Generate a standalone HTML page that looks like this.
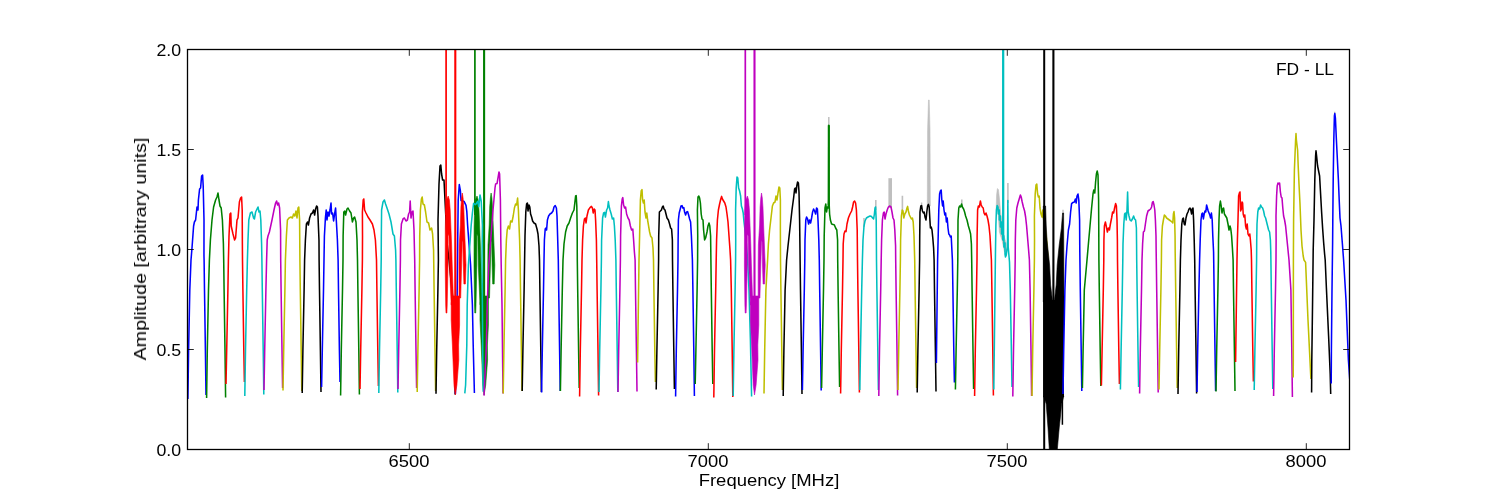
<!DOCTYPE html>
<html><head><meta charset="utf-8"><title>FD - LL</title>
<style>
html,body{margin:0;padding:0;background:#fff;}
body{width:1500px;height:500px;position:relative;overflow:hidden;font-family:"Liberation Sans",sans-serif;color:#000;}
svg{position:absolute;left:0;top:0;}
.xt,.yt,.xl,.yl,.tt{will-change:transform;}
.xt{position:absolute;top:452.2px;width:80px;text-align:center;font-size:16.6px;line-height:20px;transform:scaleX(1.108);transform-origin:50% 50%;}
.yt{position:absolute;left:100px;width:81.2px;text-align:right;font-size:16.6px;line-height:20px;transform:scaleX(1.07);transform-origin:100% 50%;}
.xl{position:absolute;left:619.3px;top:470.5px;width:300px;text-align:center;font-size:16.6px;line-height:20px;transform:scaleX(1.113);transform-origin:50% 50%;white-space:nowrap;}
.yl{position:absolute;left:-9.3px;top:238.8px;width:300px;text-align:center;font-size:16.6px;line-height:20px;transform:rotate(-90deg) scaleX(1.184);transform-origin:50% 50%;white-space:nowrap;}
.tt{position:absolute;left:1254.5px;top:60.3px;width:100px;text-align:center;font-size:16.6px;line-height:20px;transform:scaleX(1.048);transform-origin:50% 50%;white-space:nowrap;}
</style></head>
<body>
<svg width="1500" height="500" viewBox="0 0 1500 500">
<defs><clipPath id="ax"><rect x="187.50" y="49.50" width="1162.00" height="400.00"/></clipPath></defs>
<g clip-path="url(#ax)">
<line x1="828.80" y1="116.90" x2="828.80" y2="128.00" stroke="#bfbfbf" stroke-width="1.5"/>
<line x1="864.00" y1="218.00" x2="864.00" y2="227.00" stroke="#bfbfbf" stroke-width="1.6"/>
<line x1="875.80" y1="200.00" x2="875.80" y2="210.00" stroke="#bfbfbf" stroke-width="1.6"/>
<rect x="888.40" y="178.20" width="3.60" height="29.80" fill="#bfbfbf"/>
<line x1="902.40" y1="195.80" x2="902.40" y2="211.00" stroke="#bfbfbf" stroke-width="1.6"/>
<line x1="921.60" y1="202.40" x2="921.60" y2="207.00" stroke="#bfbfbf" stroke-width="1.4"/>
<polygon points="927.30,206.00 927.60,130.00 928.50,100.00 929.20,100.00 930.00,130.00 930.30,206.00" fill="#bfbfbf" stroke="#bfbfbf" stroke-width="0.6" stroke-linejoin="round" />
<line x1="961.80" y1="199.40" x2="961.80" y2="206.00" stroke="#bfbfbf" stroke-width="1.6"/>
<polygon points="996.20,208.00 996.60,195.00 997.40,188.60 998.40,189.50 999.60,200.00 1000.60,212.00 1001.90,222.00 1003.60,235.00 1006.20,243.00 1006.60,252.00 1004.50,252.00 1002.00,240.00 999.40,232.00 998.00,212.00" fill="#bfbfbf" stroke="#bfbfbf" stroke-width="0.6" stroke-linejoin="round" />
<line x1="1007.90" y1="183.00" x2="1007.90" y2="203.00" stroke="#bfbfbf" stroke-width="1.6"/>
<line x1="1063.00" y1="209.80" x2="1063.00" y2="215.00" stroke="#bfbfbf" stroke-width="1.4"/>
<line x1="1334.70" y1="111.80" x2="1334.70" y2="116.00" stroke="#bfbfbf" stroke-width="1.4"/>
<polyline points="187.90,399.00 188.60,350.00 189.80,290.00 191.00,260.00 192.00,248.00 193.60,226.00 194.40,222.00 195.60,220.00 197.00,207.00 198.00,210.00 198.40,200.00 199.60,189.00 200.60,188.00 201.60,176.00 202.60,175.00 203.20,186.00 204.00,220.00 203.98,256.00 204.10,260.00 204.50,290.00 205.40,350.00 206.00,395.00" fill="none" stroke="#0000ff" stroke-width="1.55" stroke-linejoin="round" />
<polyline points="206.60,398.00 207.30,350.00 208.50,290.00 209.40,260.00 210.40,240.00 212.00,220.00 213.60,207.00 215.60,200.00 217.00,197.00 218.00,193.00 219.00,200.00 220.00,206.00 221.20,208.00 222.40,220.00 223.40,244.00 223.70,260.00 224.10,290.00 225.00,350.00 225.60,397.40" fill="none" stroke="#008000" stroke-width="1.55" stroke-linejoin="round" />
<polyline points="226.00,384.00 226.70,350.00 227.90,290.00 228.40,260.00 229.00,236.00 230.00,214.00 230.80,213.00 231.20,226.00 233.00,234.00 234.60,240.00 235.60,238.00 237.00,220.00 238.00,218.00 239.40,202.00 240.60,198.00 241.60,197.00 242.20,210.00 242.38,244.00 242.50,260.00 242.90,290.00 243.80,350.00 244.40,382.00" fill="none" stroke="#ff0000" stroke-width="1.55" stroke-linejoin="round" />
<polyline points="244.80,396.00 245.50,350.00 246.70,290.00 247.40,260.00 248.00,240.00 248.80,220.00 250.40,213.00 252.00,212.00 253.60,218.00 254.40,219.00 255.60,212.00 257.00,209.00 258.00,207.00 259.00,212.00 260.00,211.00 260.80,220.00 261.60,244.00 261.90,260.00 262.30,290.00 263.20,350.00 263.80,394.60" fill="none" stroke="#00bfbf" stroke-width="1.55" stroke-linejoin="round" />
<polyline points="264.00,390.00 264.70,350.00 265.90,290.00 266.60,260.00 267.20,240.00 268.00,236.00 269.40,232.00 272.00,220.00 274.00,210.00 275.60,203.00 276.60,201.00 277.60,205.00 278.60,203.00 279.60,208.00 280.58,230.00 280.70,260.00 281.10,290.00 282.00,350.00 282.60,388.00" fill="none" stroke="#bf00bf" stroke-width="1.55" stroke-linejoin="round" />
<polyline points="283.00,390.60 283.70,350.00 284.90,290.00 285.40,260.00 286.40,236.00 287.40,220.00 289.00,218.00 291.00,217.00 292.40,218.00 293.60,214.00 294.80,216.00 296.00,211.00 297.00,218.00 298.00,208.00 298.80,207.00 299.60,220.00 299.78,244.00 299.90,260.00 300.30,290.00 301.20,350.00 301.80,391.00" fill="none" stroke="#bfbf00" stroke-width="1.55" stroke-linejoin="round" />
<polyline points="302.20,393.00 302.90,350.00 304.10,290.00 304.60,260.00 305.40,240.00 306.40,224.00 307.60,222.00 308.40,225.00 309.60,218.00 311.00,214.00 312.40,213.00 313.60,210.00 314.60,215.00 315.60,209.00 316.60,206.00 317.40,207.00 318.00,216.00 318.98,240.00 319.10,260.00 319.50,290.00 320.40,350.00 321.00,392.00" fill="none" stroke="#000000" stroke-width="1.55" stroke-linejoin="round" />
<polyline points="321.60,387.00 322.30,350.00 323.50,290.00 324.00,260.00 324.40,236.00 325.40,218.00 326.20,210.00 327.00,220.00 328.00,212.00 329.00,216.00 330.00,210.00 331.00,203.00 331.60,214.00 332.60,213.00 333.60,221.00 334.60,214.00 335.60,208.00 336.40,222.00 337.40,240.00 338.10,260.00 338.50,290.00 339.40,350.00 340.00,382.00" fill="none" stroke="#0000ff" stroke-width="1.55" stroke-linejoin="round" />
<polyline points="340.60,395.40 341.30,350.00 342.50,290.00 343.00,260.00 343.12,236.00 343.80,212.00 344.80,211.00 345.60,215.00 347.00,209.00 348.00,208.00 349.60,211.00 351.00,213.00 352.40,222.00 353.60,218.00 354.60,217.00 356.00,222.00 357.00,240.00 357.50,260.00 357.90,290.00 358.80,350.00 359.40,394.40" fill="none" stroke="#008000" stroke-width="1.55" stroke-linejoin="round" />
<polyline points="360.00,389.00 360.70,350.00 361.90,290.00 362.40,260.00 362.52,236.00 362.40,212.00 363.20,200.00 363.80,199.00 364.60,210.00 366.00,213.00 368.00,217.00 370.00,220.00 372.40,224.00 374.00,230.00 375.40,240.00 376.50,260.00 376.90,290.00 377.80,350.00 378.40,386.00" fill="none" stroke="#ff0000" stroke-width="1.55" stroke-linejoin="round" />
<polyline points="378.80,393.00 379.50,350.00 380.70,290.00 381.20,260.00 381.32,236.00 381.60,210.00 383.00,202.00 384.40,200.00 385.60,204.00 387.00,208.00 389.00,214.00 391.00,222.00 393.00,234.00 394.40,236.00 395.60,250.00 395.90,260.00 396.30,290.00 397.20,350.00 397.80,392.60" fill="none" stroke="#00bfbf" stroke-width="1.55" stroke-linejoin="round" />
<polyline points="398.00,389.00 398.70,350.00 399.90,290.00 400.40,260.00 400.52,240.00 401.40,224.00 403.00,219.00 404.40,218.00 406.00,221.00 407.40,220.00 408.60,214.00 409.60,212.00 410.20,201.00 411.00,218.00 412.00,212.00 413.00,211.00 414.00,230.00 414.70,260.00 415.10,290.00 416.00,350.00 416.60,388.00" fill="none" stroke="#bf00bf" stroke-width="1.55" stroke-linejoin="round" />
<polyline points="417.20,392.00 417.90,350.00 419.10,290.00 419.60,260.00 419.72,236.00 420.40,210.00 421.40,199.00 422.20,197.00 423.00,204.00 424.40,205.00 425.60,212.00 427.00,222.00 428.60,223.00 430.00,230.00 431.60,228.00 432.60,234.00 433.58,250.00 433.70,260.00 434.10,290.00 435.00,350.00 435.60,391.00" fill="none" stroke="#bfbf00" stroke-width="1.55" stroke-linejoin="round" />
<polyline points="436.00,393.80 436.70,350.00 437.90,290.00 438.40,260.00 438.00,220.00 439.00,184.00 440.00,166.00 440.80,165.00 441.60,174.00 442.60,180.00 444.00,180.00 445.00,200.00 446.00,220.00 447.20,244.00 449.00,260.00 451.40,285.00 454.00,310.00 454.80,350.00 455.20,394.60" fill="none" stroke="#000000" stroke-width="1.55" stroke-linejoin="round" />
<polyline points="455.40,394.00 456.80,330.00 457.60,250.00 458.20,200.00 459.30,184.60 460.40,190.80 461.00,200.50 464.20,201.60 466.00,205.40 466.80,211.40 467.60,225.00 470.60,265.00 472.40,305.00 473.20,345.00 474.40,393.00" fill="none" stroke="#0000ff" stroke-width="1.55" stroke-linejoin="round" />
<polygon points="474.10,228.00 474.50,210.00 475.40,200.00 477.00,196.00 478.20,200.00 479.00,210.00 479.60,225.00 480.40,245.00 481.00,265.00 482.40,305.00 480.00,305.00 478.30,265.00 477.80,236.00 476.90,234.00 476.80,265.00 476.00,305.00 475.70,313.00 474.80,313.00 474.50,305.00 474.00,265.00" fill="#008000" stroke="#008000" stroke-width="0.6" stroke-linejoin="round" />
<polygon points="480.00,303.00 481.80,296.00 488.40,296.00 488.40,325.00 487.40,345.00 487.60,360.00 485.70,385.00 484.10,395.00 482.80,385.00 481.20,345.00 480.00,320.00" fill="#008000" stroke="#008000" stroke-width="0.6" stroke-linejoin="round" />
<line x1="474.90" y1="40.00" x2="474.90" y2="215.00" stroke="#008000" stroke-width="1.7"/>
<line x1="484.10" y1="40.00" x2="484.10" y2="320.00" stroke="#008000" stroke-width="2.1"/>
<polygon points="487.80,265.00 488.00,245.00 489.20,225.00 489.70,207.00 490.40,198.00 491.10,193.00 491.90,198.00 492.60,208.00 493.20,225.00 494.00,245.00 494.80,265.00 494.20,284.00 492.70,284.00 492.10,265.00 491.70,242.00 491.10,240.00 490.40,265.00 489.50,298.00 487.80,298.00" fill="#008000" stroke="#008000" stroke-width="0.6" stroke-linejoin="round" />
<polygon points="445.30,228.00 445.70,210.00 446.60,200.00 448.20,196.00 449.40,200.00 450.20,210.00 450.80,225.00 451.60,245.00 452.20,265.00 453.60,305.00 451.20,305.00 449.50,265.00 449.00,236.00 448.10,234.00 448.00,265.00 447.20,305.00 446.90,313.00 446.00,313.00 445.70,305.00 445.20,265.00" fill="#ff0000" stroke="#ff0000" stroke-width="0.6" stroke-linejoin="round" />
<polygon points="451.20,303.00 453.00,296.00 459.60,296.00 459.60,325.00 458.60,345.00 458.80,360.00 456.90,385.00 455.30,395.00 454.00,385.00 452.40,345.00 451.20,320.00" fill="#ff0000" stroke="#ff0000" stroke-width="0.6" stroke-linejoin="round" />
<line x1="446.10" y1="40.00" x2="446.10" y2="215.00" stroke="#ff0000" stroke-width="1.7"/>
<line x1="455.30" y1="40.00" x2="455.30" y2="320.00" stroke="#ff0000" stroke-width="2.1"/>
<polygon points="459.00,265.00 459.20,245.00 460.40,225.00 460.90,207.00 461.60,198.00 462.30,193.00 463.10,198.00 463.80,208.00 464.40,225.00 465.20,245.00 466.00,265.00 465.40,284.00 463.90,284.00 463.30,265.00 462.90,242.00 462.30,240.00 461.60,265.00 460.70,298.00 459.00,298.00" fill="#ff0000" stroke="#ff0000" stroke-width="0.6" stroke-linejoin="round" />
<polyline points="464.80,393.40 465.60,385.00 466.80,345.00 467.20,305.00 468.40,265.00 471.20,225.00 472.40,213.00 473.60,203.40 475.60,204.60 477.60,201.40 478.80,206.60 480.00,195.00 481.20,201.00 482.00,217.00 482.40,225.00 482.00,260.00 482.40,305.00 482.80,360.00 483.20,391.80" fill="none" stroke="#00bfbf" stroke-width="1.55" stroke-linejoin="round" />
<polyline points="484.00,395.60 486.40,345.00 487.20,305.00 488.80,265.00 491.00,236.00 493.00,210.00 495.00,188.00 495.60,184.00 497.00,183.60 498.00,178.00 499.00,172.00 499.60,174.00 500.40,200.00 500.80,240.00 501.20,265.00 502.00,305.00 503.00,393.40" fill="none" stroke="#bf00bf" stroke-width="1.55" stroke-linejoin="round" />
<polyline points="503.20,393.40 503.90,350.00 505.10,290.00 505.60,260.00 506.40,240.00 507.20,230.00 508.40,226.00 509.60,229.00 510.60,221.00 512.00,222.00 513.20,216.00 514.40,208.00 515.60,204.00 516.60,205.00 517.60,198.00 518.40,210.00 519.60,240.00 520.10,260.00 520.50,290.00 521.40,350.00 522.00,391.00" fill="none" stroke="#bfbf00" stroke-width="1.55" stroke-linejoin="round" />
<polyline points="522.20,391.00 522.90,350.00 524.10,290.00 524.60,260.00 525.00,236.00 525.80,212.00 526.60,204.00 527.40,203.00 528.00,211.00 529.00,205.00 529.80,207.00 530.60,214.00 531.60,217.00 532.60,221.00 534.00,223.00 535.60,224.00 537.00,229.00 538.00,234.00 539.00,246.00 539.50,260.00 539.90,290.00 540.80,350.00 541.40,392.00" fill="none" stroke="#000000" stroke-width="1.55" stroke-linejoin="round" />
<polyline points="541.60,392.40 542.30,350.00 543.50,290.00 544.00,260.00 544.40,240.00 545.20,229.00 546.00,228.00 546.60,230.00 547.40,220.00 548.60,216.00 550.00,214.00 551.60,213.00 553.00,211.00 554.00,207.00 555.20,205.60 556.40,208.00 557.00,216.00 557.60,236.00 558.30,260.00 558.70,290.00 559.60,350.00 560.20,391.00" fill="none" stroke="#0000ff" stroke-width="1.55" stroke-linejoin="round" />
<polyline points="560.40,391.00 561.10,350.00 562.30,290.00 563.00,260.00 564.00,244.00 565.60,232.00 567.20,226.00 569.00,223.00 570.60,218.00 572.40,213.00 574.00,210.00 574.80,203.00 575.60,196.00 576.20,195.60 576.80,206.00 577.18,230.00 577.30,260.00 577.70,290.00 578.60,350.00 579.20,388.00" fill="none" stroke="#008000" stroke-width="1.55" stroke-linejoin="round" />
<polyline points="579.60,396.40 580.30,350.00 581.50,290.00 582.00,260.00 582.60,240.00 583.40,226.00 584.40,219.00 585.40,218.00 586.00,223.00 587.00,216.00 588.40,210.00 590.00,207.60 591.40,206.40 592.40,208.00 593.20,213.00 594.20,209.00 595.00,210.00 595.60,220.00 596.40,240.00 596.70,260.00 597.10,290.00 598.00,350.00 598.60,395.60" fill="none" stroke="#ff0000" stroke-width="1.55" stroke-linejoin="round" />
<polyline points="599.00,392.00 599.70,350.00 600.90,290.00 601.40,260.00 601.60,240.00 602.60,218.00 603.60,213.00 604.60,212.40 605.40,217.00 606.60,210.00 607.60,208.00 608.40,201.60 609.00,206.00 610.00,210.00 611.20,214.00 612.40,219.00 613.60,218.00 614.40,226.00 615.20,240.00 615.90,260.00 616.30,290.00 617.20,350.00 617.80,392.00" fill="none" stroke="#00bfbf" stroke-width="1.55" stroke-linejoin="round" />
<polyline points="618.00,392.00 618.70,350.00 619.90,290.00 620.40,260.00 620.60,236.00 621.40,206.00 622.20,199.00 622.80,197.60 623.60,205.00 624.60,208.00 625.60,207.00 626.60,214.00 628.00,218.00 629.20,220.00 630.40,226.00 631.60,230.00 632.80,229.00 633.60,240.00 634.40,252.00 635.10,260.00 635.50,290.00 636.40,350.00 637.00,391.60" fill="none" stroke="#bf00bf" stroke-width="1.55" stroke-linejoin="round" />
<polyline points="637.60,362.60 639.00,260.00 639.60,236.00 640.40,200.00 641.20,191.00 642.00,189.60 642.60,200.00 643.40,203.00 644.20,200.00 645.00,212.00 646.00,218.00 646.80,213.00 647.60,220.00 648.60,226.00 649.60,232.00 650.60,236.00 652.00,238.00 653.00,248.00 653.50,260.00 653.90,290.00 654.80,350.00 655.40,382.00" fill="none" stroke="#bfbf00" stroke-width="1.55" stroke-linejoin="round" />
<polyline points="656.20,389.40 656.90,350.00 658.10,290.00 658.60,260.00 658.72,236.00 659.40,212.00 660.40,211.00 661.40,210.00 662.40,207.00 663.20,206.00 664.00,209.00 665.00,210.00 666.00,214.00 667.00,218.00 668.40,220.00 669.60,224.00 670.60,228.00 671.60,229.00 672.38,240.00 672.50,260.00 672.90,290.00 673.80,350.00 674.40,389.00" fill="none" stroke="#000000" stroke-width="1.55" stroke-linejoin="round" />
<polyline points="675.60,396.40 676.30,350.00 677.50,290.00 678.00,260.00 678.12,240.00 678.40,220.00 679.20,213.00 680.00,210.00 681.00,206.00 682.00,205.60 682.80,208.00 683.80,207.60 684.60,212.00 685.60,215.00 686.60,212.00 687.60,211.60 688.60,215.00 689.60,219.00 690.60,222.00 691.40,236.00 692.40,260.00 692.90,290.00 693.80,350.00 694.40,396.00" fill="none" stroke="#0000ff" stroke-width="1.55" stroke-linejoin="round" />
<polyline points="695.20,384.00 695.90,350.00 697.10,290.00 697.60,260.00 697.72,236.00 697.40,210.00 698.00,197.00 698.80,196.00 699.60,198.00 700.40,203.00 701.20,214.00 702.00,219.00 703.00,220.00 703.60,230.00 704.60,240.00 705.60,238.00 707.00,232.00 708.00,226.00 709.00,223.00 709.80,226.00 710.60,236.00 710.78,250.00 710.90,260.00 711.30,290.00 712.20,350.00 712.80,384.00" fill="none" stroke="#008000" stroke-width="1.55" stroke-linejoin="round" />
<polyline points="713.80,397.60 714.50,350.00 715.70,290.00 716.20,260.00 716.60,240.00 717.40,220.00 718.40,210.00 719.60,204.00 720.80,199.00 721.60,196.40 722.40,199.00 723.60,201.00 724.80,203.00 726.00,207.00 727.00,214.00 728.00,222.00 729.00,236.00 730.00,250.00 730.60,260.00 731.30,290.00 732.20,350.00 732.80,397.00" fill="none" stroke="#ff0000" stroke-width="1.55" stroke-linejoin="round" />
<polyline points="733.20,396.00 733.90,350.00 735.10,290.00 735.60,260.00 735.72,240.00 735.60,210.00 736.20,188.00 737.00,177.00 737.80,178.00 738.60,188.00 739.60,191.00 740.60,196.00 741.40,206.00 742.40,209.00 743.20,213.00 744.00,222.00 745.20,232.00 746.40,244.00 747.60,260.00 749.00,290.00 750.40,340.00 751.60,396.60" fill="none" stroke="#00bfbf" stroke-width="1.55" stroke-linejoin="round" />
<polygon points="744.50,228.00 744.90,210.00 745.80,200.00 747.40,196.00 748.60,200.00 749.40,210.00 750.00,225.00 750.80,245.00 751.40,265.00 752.80,305.00 750.40,305.00 748.70,265.00 748.20,236.00 747.30,234.00 747.20,265.00 746.40,305.00 746.10,313.00 745.20,313.00 744.90,305.00 744.40,265.00" fill="#bf00bf" stroke="#bf00bf" stroke-width="0.6" stroke-linejoin="round" />
<polygon points="750.40,303.00 752.20,296.00 758.80,296.00 758.80,325.00 757.80,345.00 758.00,360.00 756.10,385.00 754.50,395.00 753.20,385.00 751.60,345.00 750.40,320.00" fill="#bf00bf" stroke="#bf00bf" stroke-width="0.6" stroke-linejoin="round" />
<line x1="745.30" y1="40.00" x2="745.30" y2="215.00" stroke="#bf00bf" stroke-width="1.7"/>
<line x1="754.50" y1="40.00" x2="754.50" y2="320.00" stroke="#bf00bf" stroke-width="2.1"/>
<polygon points="758.20,265.00 758.40,245.00 759.60,225.00 760.10,207.00 760.80,198.00 761.50,193.00 762.30,198.00 763.00,208.00 763.60,225.00 764.40,245.00 765.20,265.00 764.60,284.00 763.10,284.00 762.50,265.00 762.10,242.00 761.50,240.00 760.80,265.00 759.90,298.00 758.20,298.00" fill="#bf00bf" stroke="#bf00bf" stroke-width="0.6" stroke-linejoin="round" />
<polyline points="764.00,393.60 764.70,350.00 765.90,290.00 767.60,260.00 768.40,244.00 769.60,230.00 771.00,218.00 772.40,206.00 773.60,203.00 775.00,202.00 776.00,196.00 777.00,200.00 778.00,193.00 779.00,187.00 779.80,188.00 780.40,200.00 780.38,230.00 780.50,260.00 780.90,290.00 781.80,350.00 782.40,390.00" fill="none" stroke="#bfbf00" stroke-width="1.55" stroke-linejoin="round" />
<polyline points="783.20,396.00 783.90,350.00 785.10,290.00 786.60,260.00 788.00,246.00 790.00,228.00 792.00,210.00 793.60,198.00 794.60,189.00 795.40,188.00 796.00,193.00 796.80,186.00 797.60,182.00 798.40,183.00 799.00,192.00 799.60,220.00 799.98,250.00 800.10,260.00 800.50,290.00 801.40,350.00 802.00,394.00" fill="none" stroke="#000000" stroke-width="1.55" stroke-linejoin="round" />
<polyline points="802.40,390.00 803.10,350.00 804.30,290.00 804.80,260.00 805.00,240.00 805.80,220.00 806.60,217.00 807.60,219.00 808.60,224.00 809.60,220.00 810.60,223.00 811.60,218.00 812.60,212.00 813.60,209.00 814.60,211.00 815.60,214.00 816.60,208.00 817.40,209.00 818.00,220.00 818.80,240.00 819.30,260.00 819.70,290.00 820.60,350.00 821.20,390.40" fill="none" stroke="#0000ff" stroke-width="1.55" stroke-linejoin="round" />
<polyline points="821.60,388.00 822.30,350.00 823.50,290.00 824.00,260.00 824.20,236.00 825.00,208.00 825.80,204.00 826.60,212.00 827.40,207.00 828.20,208.00 828.60,200.00 828.80,125.20 829.00,200.00 829.60,214.00 830.40,220.00 831.60,224.00 833.00,224.40 834.40,225.00 835.60,228.00 836.80,230.00 837.58,240.00 837.70,260.00 838.10,290.00 839.00,350.00 839.60,387.00" fill="none" stroke="#008000" stroke-width="1.55" stroke-linejoin="round" />
<line x1="828.80" y1="125.20" x2="828.80" y2="205.00" stroke="#008000" stroke-width="2.1"/>
<polyline points="840.60,393.40 841.30,350.00 842.50,290.00 843.00,260.00 843.20,244.00 844.00,234.00 845.00,231.00 846.00,231.60 847.00,224.00 848.40,218.00 850.00,214.00 851.60,211.00 852.60,207.00 853.60,202.00 854.60,201.00 855.60,203.00 856.40,210.00 857.20,230.00 857.50,260.00 857.90,290.00 858.80,350.00 859.40,392.40" fill="none" stroke="#ff0000" stroke-width="1.55" stroke-linejoin="round" />
<polyline points="859.80,390.00 860.50,350.00 861.70,290.00 862.40,260.00 863.00,240.00 864.00,226.00 865.00,221.00 866.40,218.00 868.00,217.00 870.00,216.00 871.60,216.60 872.60,218.00 873.60,219.00 874.40,214.00 875.00,208.00 875.60,207.00 876.20,220.00 876.38,240.00 876.50,260.00 876.90,290.00 877.80,350.00 878.40,390.00" fill="none" stroke="#00bfbf" stroke-width="1.55" stroke-linejoin="round" />
<polyline points="878.80,396.00 879.50,350.00 880.70,290.00 881.20,260.00 881.60,240.00 882.40,220.00 883.40,213.00 884.20,212.00 885.00,219.00 886.00,214.00 887.20,210.00 888.40,207.00 889.60,206.00 891.00,207.00 892.00,212.00 893.00,218.00 894.00,220.00 894.80,230.00 895.58,246.00 895.70,260.00 896.10,290.00 897.00,350.00 897.60,395.40" fill="none" stroke="#bf00bf" stroke-width="1.55" stroke-linejoin="round" />
<polyline points="898.00,390.00 898.70,350.00 899.90,290.00 900.40,260.00 900.60,240.00 901.40,216.00 902.20,210.00 903.00,211.00 903.80,218.00 904.80,214.00 906.00,212.00 907.00,208.00 907.60,206.40 908.40,211.00 909.40,215.00 910.40,217.00 911.40,219.00 912.40,218.00 913.20,222.00 914.00,236.00 914.70,260.00 915.10,290.00 916.00,350.00 916.60,388.00" fill="none" stroke="#bfbf00" stroke-width="1.55" stroke-linejoin="round" />
<polyline points="917.20,392.40 917.90,350.00 919.10,290.00 919.60,260.00 919.72,236.00 920.00,212.00 920.80,206.00 921.60,205.60 922.40,211.00 923.40,213.00 924.20,212.00 925.00,217.00 926.00,220.00 926.80,212.00 927.60,206.00 928.40,204.40 929.20,207.00 929.80,218.00 930.40,228.00 931.20,227.00 932.00,230.00 932.80,238.00 933.60,248.00 934.10,260.00 934.50,290.00 935.40,350.00 936.00,391.60" fill="none" stroke="#000000" stroke-width="1.55" stroke-linejoin="round" />
<polyline points="936.40,363.00 937.60,260.00 938.20,236.00 938.80,210.00 939.60,194.00 940.40,191.00 941.20,190.00 941.80,200.00 942.60,206.00 943.20,201.00 944.00,210.00 944.80,215.00 945.60,213.00 946.40,222.00 947.20,218.00 948.00,228.00 948.80,234.00 949.60,235.00 950.40,237.00 951.20,236.00 951.80,248.00 952.40,260.00 952.90,290.00 953.80,350.00 954.40,382.40" fill="none" stroke="#0000ff" stroke-width="1.55" stroke-linejoin="round" />
<polyline points="955.40,389.40 956.10,350.00 957.30,290.00 957.80,260.00 957.92,240.00 958.00,220.00 958.80,208.00 959.60,206.00 960.60,207.00 961.60,204.00 962.40,207.00 963.60,209.00 964.60,212.00 965.60,216.00 967.00,220.00 968.40,226.00 969.60,230.00 970.60,234.00 971.40,244.00 971.70,260.00 972.10,290.00 973.00,350.00 973.60,389.00" fill="none" stroke="#008000" stroke-width="1.55" stroke-linejoin="round" />
<polyline points="974.60,396.00 975.30,350.00 976.50,290.00 977.00,260.00 977.12,236.00 977.60,210.00 978.40,206.00 979.40,207.00 980.40,201.00 981.20,205.00 982.20,207.00 983.20,208.00 984.00,213.00 985.00,215.00 986.00,213.00 987.00,216.00 988.00,220.00 989.00,226.00 990.00,236.00 990.80,250.00 991.40,260.00 991.90,290.00 992.80,350.00 993.40,395.60" fill="none" stroke="#ff0000" stroke-width="1.55" stroke-linejoin="round" />
<polyline points="993.80,389.60 994.40,340.00 995.00,290.00 995.50,250.00 995.90,225.00 996.40,210.00 997.20,205.50 998.00,207.00 998.30,214.00 999.30,210.00 999.30,220.00 1000.40,216.00 1000.40,227.00 1001.50,222.00 1001.60,234.00 1002.70,229.00 1002.80,240.00 1003.10,236.00 1003.20,40.00 1003.30,238.00 1003.90,236.00 1003.90,247.00 1005.00,243.00 1005.00,254.00 1005.50,257.00 1006.30,255.00 1006.90,250.00 1007.50,247.00 1007.85,200.60 1008.20,247.00 1008.80,254.00 1009.50,262.00 1010.30,290.00 1011.20,340.00 1012.00,387.00" fill="none" stroke="#00bfbf" stroke-width="1.55" stroke-linejoin="round" />
<line x1="1003.20" y1="40.00" x2="1003.20" y2="236.00" stroke="#00bfbf" stroke-width="2.2"/>
<polyline points="1012.80,396.40 1013.50,350.00 1014.70,290.00 1015.20,260.00 1015.32,240.00 1015.80,220.00 1016.80,208.00 1018.00,203.00 1019.20,199.00 1020.40,195.00 1021.20,197.00 1022.20,202.00 1023.40,207.00 1024.60,211.00 1025.60,217.00 1026.60,226.00 1027.60,238.00 1028.60,250.00 1029.40,260.00 1030.10,290.00 1031.00,350.00 1031.60,396.00" fill="none" stroke="#bf00bf" stroke-width="1.55" stroke-linejoin="round" />
<polyline points="1032.00,396.00 1032.70,350.00 1033.90,290.00 1034.40,260.00 1034.52,240.00 1034.40,216.00 1035.20,194.00 1036.00,185.00 1036.80,184.00 1037.60,194.00 1038.40,197.00 1039.20,196.00 1040.00,208.00 1041.00,214.00 1042.00,217.00 1042.80,210.00 1043.40,218.00 1045.00,228.00 1046.40,238.00 1048.00,260.00 1049.60,320.00 1051.00,392.00" fill="none" stroke="#bfbf00" stroke-width="1.55" stroke-linejoin="round" />
<line x1="1044.20" y1="40.00" x2="1044.20" y2="449.50" stroke="#000000" stroke-width="2.0"/>
<line x1="1053.40" y1="40.00" x2="1053.40" y2="320.00" stroke="#000000" stroke-width="2.1"/>
<polygon points="1043.30,206.00 1045.60,206.00 1046.20,225.00 1047.00,240.00 1049.60,265.00 1050.60,285.00 1052.60,302.00 1043.30,302.00" fill="#000000" stroke="#000000" stroke-width="0.6" stroke-linejoin="round" />
<polygon points="1062.60,213.00 1063.60,213.00 1064.00,302.00 1054.20,302.00 1056.20,285.00 1057.20,265.00 1059.20,245.00 1061.40,228.00" fill="#000000" stroke="#000000" stroke-width="0.6" stroke-linejoin="round" />
<rect x="1043.20" y="300.00" width="20.80" height="97.00" fill="#000000"/>
<polygon points="1043.40,396.00 1063.80,396.00 1062.80,400.00 1061.60,404.00 1060.60,415.00 1059.20,428.00 1057.30,449.50 1049.30,449.50 1048.00,428.00 1046.80,412.00 1046.20,404.00 1044.60,399.00" fill="#000000" stroke="#000000" stroke-width="0.6" stroke-linejoin="round" />
<line x1="1062.40" y1="396.00" x2="1062.40" y2="424.80" stroke="#000000" stroke-width="1.5"/>
<polyline points="1063.00,394.00 1063.70,350.00 1064.90,290.00 1066.00,260.00 1067.00,246.00 1068.40,230.00 1069.60,224.00 1070.60,212.00 1071.60,203.60 1073.00,202.40 1074.40,202.00 1075.40,199.00 1076.20,203.00 1077.00,196.00 1078.00,194.00 1078.80,200.00 1079.60,220.00 1079.78,250.00 1079.90,260.00 1080.30,290.00 1081.20,350.00 1081.80,391.00" fill="none" stroke="#0000ff" stroke-width="1.55" stroke-linejoin="round" />
<polyline points="1082.40,388.00 1083.10,350.00 1084.30,290.00 1087.00,260.00 1088.40,244.00 1090.00,226.00 1091.60,208.00 1093.00,194.00 1093.80,190.00 1094.80,193.00 1095.60,182.00 1096.40,174.00 1097.20,171.00 1098.00,175.00 1098.60,200.00 1098.78,230.00 1098.90,260.00 1099.30,290.00 1100.20,350.00 1100.80,386.00" fill="none" stroke="#008000" stroke-width="1.55" stroke-linejoin="round" />
<polyline points="1101.40,385.60 1102.10,350.00 1103.30,290.00 1103.80,260.00 1103.92,240.00 1104.40,226.00 1105.40,222.00 1106.40,227.00 1107.40,232.00 1108.40,228.00 1109.40,230.00 1110.40,224.00 1111.60,218.00 1112.60,212.00 1113.60,213.00 1114.60,208.00 1115.60,203.60 1116.40,206.00 1117.00,220.00 1117.38,240.00 1117.50,260.00 1117.90,290.00 1118.80,350.00 1119.40,384.00" fill="none" stroke="#ff0000" stroke-width="1.55" stroke-linejoin="round" />
<polyline points="1120.40,389.40 1121.10,350.00 1122.30,290.00 1122.80,260.00 1123.00,244.00 1123.80,224.00 1124.60,214.00 1125.40,213.00 1126.20,220.00 1127.00,210.00 1127.60,192.00 1128.20,212.00 1129.00,216.00 1130.00,220.00 1131.20,221.00 1132.40,219.00 1133.60,216.00 1134.60,219.00 1135.60,220.00 1136.40,228.00 1136.58,244.00 1136.70,260.00 1137.10,290.00 1138.00,350.00 1138.60,387.00" fill="none" stroke="#00bfbf" stroke-width="1.55" stroke-linejoin="round" />
<polyline points="1139.60,393.60 1140.30,350.00 1141.50,290.00 1142.00,260.00 1142.60,244.00 1143.40,232.00 1144.40,231.00 1145.40,224.00 1146.60,216.00 1148.00,211.00 1149.40,210.00 1150.60,209.00 1151.60,207.00 1152.40,202.40 1153.20,201.60 1154.00,205.00 1154.80,210.00 1155.40,220.00 1156.00,236.00 1156.18,252.00 1156.30,260.00 1156.70,290.00 1157.60,350.00 1158.20,392.60" fill="none" stroke="#bf00bf" stroke-width="1.55" stroke-linejoin="round" />
<polyline points="1159.00,389.60 1159.70,350.00 1160.90,290.00 1161.40,260.00 1161.60,240.00 1162.40,226.00 1163.40,220.00 1164.40,215.00 1165.40,216.00 1166.60,218.00 1168.00,219.00 1169.40,220.00 1170.80,221.00 1172.00,222.00 1172.80,223.00 1173.40,214.00 1174.00,211.60 1174.60,218.00 1175.06,236.00 1175.18,252.00 1175.30,260.00 1175.70,290.00 1176.60,350.00 1177.20,388.00" fill="none" stroke="#bfbf00" stroke-width="1.55" stroke-linejoin="round" />
<polyline points="1178.00,394.00 1178.70,350.00 1179.90,290.00 1180.40,260.00 1181.00,240.00 1181.80,224.00 1182.60,219.00 1183.40,218.00 1184.20,224.00 1185.00,225.00 1186.00,218.00 1187.00,214.00 1188.00,212.00 1189.00,209.00 1190.00,208.00 1190.80,210.00 1191.60,214.00 1192.20,209.00 1193.00,208.00 1193.60,220.00 1194.20,240.00 1194.70,260.00 1195.10,290.00 1196.00,350.00 1196.60,393.60" fill="none" stroke="#000000" stroke-width="1.55" stroke-linejoin="round" />
<polyline points="1197.00,392.00 1197.70,350.00 1198.90,290.00 1199.60,260.00 1200.20,240.00 1201.00,220.00 1201.80,214.00 1202.60,213.00 1203.40,219.00 1204.20,214.00 1205.00,211.00 1205.80,212.00 1206.60,205.00 1207.40,208.00 1208.20,211.00 1209.00,213.00 1209.80,215.00 1210.60,218.00 1211.40,213.00 1212.20,220.00 1212.80,236.00 1213.58,252.00 1213.70,260.00 1214.10,290.00 1215.00,350.00 1215.60,391.00" fill="none" stroke="#0000ff" stroke-width="1.55" stroke-linejoin="round" />
<polyline points="1216.00,391.60 1216.70,350.00 1217.90,290.00 1218.40,260.00 1218.52,240.00 1219.00,220.00 1219.60,206.00 1220.40,201.00 1221.20,206.00 1222.00,213.00 1222.80,209.00 1223.60,208.00 1224.40,214.00 1225.60,216.00 1226.80,218.00 1228.00,224.00 1229.00,230.00 1230.00,226.00 1230.80,229.00 1231.60,236.00 1232.40,248.00 1233.10,260.00 1233.50,290.00 1234.40,350.00 1235.00,391.00" fill="none" stroke="#008000" stroke-width="1.55" stroke-linejoin="round" />
<polyline points="1235.60,362.00 1237.00,260.00 1237.40,240.00 1238.00,220.00 1238.60,196.00 1239.40,193.00 1240.00,192.00 1240.60,211.00 1241.40,209.00 1242.00,202.00 1242.60,203.00 1243.20,214.00 1244.00,217.00 1244.80,215.00 1245.60,226.00 1246.40,229.00 1247.20,224.00 1248.00,234.00 1249.00,236.00 1249.80,234.00 1250.40,240.00 1251.20,250.00 1251.50,260.00 1251.90,290.00 1252.80,350.00 1253.40,381.60" fill="none" stroke="#ff0000" stroke-width="1.55" stroke-linejoin="round" />
<polyline points="1254.20,390.00 1254.90,350.00 1256.10,290.00 1256.60,260.00 1256.72,240.00 1257.00,224.00 1257.80,212.00 1258.60,208.00 1259.60,209.00 1260.60,205.00 1261.60,207.00 1262.60,208.00 1263.60,211.00 1264.60,216.00 1265.60,218.00 1266.60,222.00 1267.60,226.00 1268.60,230.00 1269.60,232.00 1270.40,240.00 1270.78,252.00 1270.90,260.00 1271.30,290.00 1272.20,350.00 1272.80,389.00" fill="none" stroke="#00bfbf" stroke-width="1.55" stroke-linejoin="round" />
<polyline points="1273.60,396.00 1274.30,350.00 1275.50,290.00 1276.00,260.00 1276.12,240.00 1276.00,216.00 1276.60,196.00 1277.20,186.00 1278.00,183.00 1278.80,184.00 1279.60,183.00 1280.40,192.00 1281.20,197.00 1282.00,198.00 1282.80,208.00 1283.60,216.00 1284.60,220.00 1285.60,226.00 1286.60,236.00 1287.60,246.00 1288.60,256.00 1289.00,260.00 1290.90,290.00 1291.80,350.00 1292.40,397.00" fill="none" stroke="#bf00bf" stroke-width="1.55" stroke-linejoin="round" />
<polyline points="1293.20,377.60 1293.30,360.00 1293.40,260.00 1293.60,220.00 1294.40,170.00 1295.60,140.00 1296.00,133.60 1296.40,140.00 1297.60,150.00 1298.20,166.00 1299.00,184.00 1300.00,204.00 1301.00,230.00 1302.00,246.00 1303.20,256.00 1304.00,260.00 1305.60,262.40 1308.00,320.00 1310.90,379.00" fill="none" stroke="#bfbf00" stroke-width="1.55" stroke-linejoin="round" />
<polyline points="1311.60,392.40 1311.80,360.00 1312.60,300.00 1313.20,250.00 1314.00,220.00 1314.80,180.00 1315.60,156.00 1316.00,150.80 1316.60,156.00 1317.60,166.00 1318.40,170.00 1319.60,176.00 1320.60,194.00 1321.60,212.00 1322.60,228.00 1323.60,242.00 1324.60,254.00 1325.20,260.00 1326.40,288.00 1328.60,336.00 1330.20,374.00 1330.70,394.00" fill="none" stroke="#000000" stroke-width="1.55" stroke-linejoin="round" />
<polyline points="1331.20,383.60 1331.40,350.00 1332.00,290.00 1332.60,244.00 1332.80,220.00 1333.20,180.00 1333.80,140.00 1334.40,116.00 1334.80,113.60 1335.40,118.00 1336.40,140.00 1337.40,160.00 1338.40,180.00 1339.20,200.00 1340.00,218.00 1341.00,226.00 1342.40,244.00 1343.60,260.00 1346.00,300.00 1348.40,360.00 1350.20,386.00" fill="none" stroke="#0000ff" stroke-width="1.55" stroke-linejoin="round" />
</g>
<g stroke="#000" stroke-width="0.85" fill="none">
<line x1="409.30" y1="449.50" x2="409.30" y2="443.20"/>
<line x1="409.30" y1="49.50" x2="409.30" y2="55.80"/>
<line x1="708.30" y1="449.50" x2="708.30" y2="443.20"/>
<line x1="708.30" y1="49.50" x2="708.30" y2="55.80"/>
<line x1="1007.30" y1="449.50" x2="1007.30" y2="443.20"/>
<line x1="1007.30" y1="49.50" x2="1007.30" y2="55.80"/>
<line x1="1306.30" y1="449.50" x2="1306.30" y2="443.20"/>
<line x1="1306.30" y1="49.50" x2="1306.30" y2="55.80"/>
<line x1="187.50" y1="149.50" x2="193.80" y2="149.50"/>
<line x1="1349.50" y1="149.50" x2="1343.20" y2="149.50"/>
<line x1="187.50" y1="249.50" x2="193.80" y2="249.50"/>
<line x1="1349.50" y1="249.50" x2="1343.20" y2="249.50"/>
<line x1="187.50" y1="349.50" x2="193.80" y2="349.50"/>
<line x1="1349.50" y1="349.50" x2="1343.20" y2="349.50"/>
</g>
<rect x="187.50" y="49.50" width="1162.00" height="400.00" fill="none" stroke="#000" stroke-width="1.3"/>
</svg>
<div class="xt" style="left:369.3px">6500</div>
<div class="xt" style="left:668.3px">7000</div>
<div class="xt" style="left:967.3px">7500</div>
<div class="xt" style="left:1266.3px">8000</div>
<div class="yt" style="top:40.8px">2.0</div>
<div class="yt" style="top:140.8px">1.5</div>
<div class="yt" style="top:240.8px">1.0</div>
<div class="yt" style="top:340.8px">0.5</div>
<div class="yt" style="top:440.8px">0.0</div>
<div class="xl">Frequency [MHz]</div>
<div class="yl">Amplitude [arbitrary units]</div>
<div class="tt">FD - LL</div>
</body></html>
